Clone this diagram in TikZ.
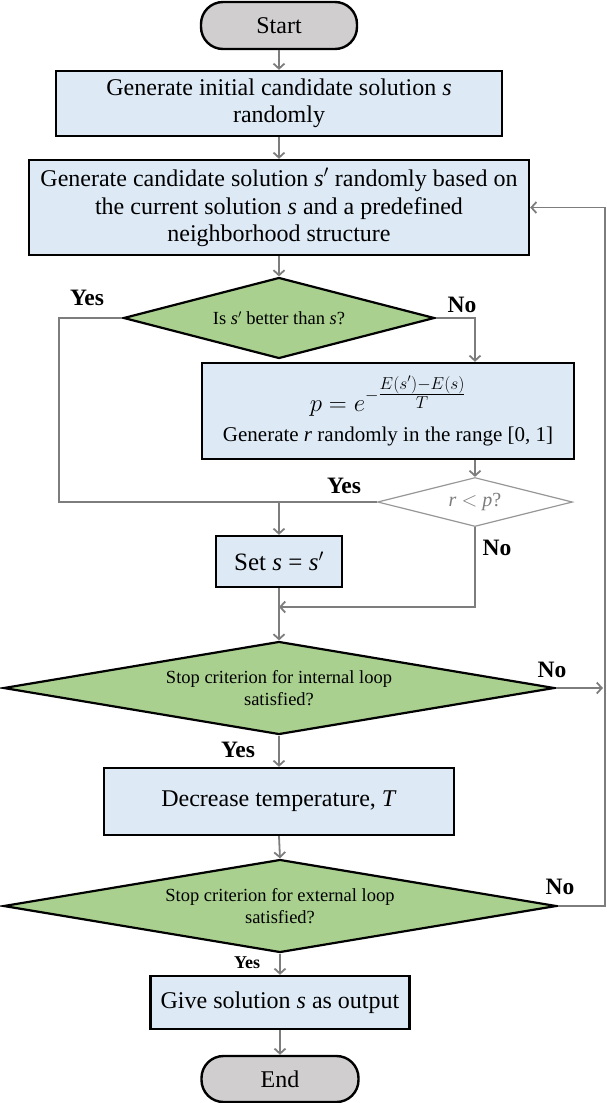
\documentclass[tikz,border=0pt]{standalone}
\usepackage{fontspec}
\setmainfont{Liberation Serif}
\usetikzlibrary{shapes.geometric,arrows.meta}
\definecolor{boxblue}{RGB}{221,234,246}
\definecolor{dgreen}{RGB}{169,208,142}
\definecolor{termgray}{RGB}{208,206,206}
\definecolor{arrgray}{RGB}{125,125,125}
\begin{document}
\begin{tikzpicture}[x=1pt,y=-1pt,
  box/.style={draw=black,line width=2.4pt,fill=boxblue,rectangle,inner sep=0pt,align=center,font=\fontsize{24}{27.5}\selectfont},
  term/.style={draw=black,line width=2.4pt,fill=termgray,rectangle,rounded corners=22pt,inner sep=0pt,font=\fontsize{24}{27.5}\selectfont},
  dec/.style={diamond,draw=black,line width=2.2pt,fill=dgreen,inner sep=0pt,align=center,font=\fontsize{18.5}{22}\selectfont},
  arr/.style={draw=arrgray,line width=1.8pt,-{Straight Barb[length=5pt,width=11pt]}},
  ln/.style={draw=arrgray,line width=1.8pt},
  lab/.style={font=\bfseries\fontsize{23.5}{27}\selectfont},
  slab/.style={font=\bfseries\fontsize{18}{22}\selectfont}]
\useasboundingbox (0,0) rectangle (606,1103);
\node[term,minimum width=156,minimum height=47] (start) at (279,25.5) {Start};
\node[box,minimum width=446,minimum height=65] (b1) at (279,103.5) {Generate initial candidate solution \textit{s}\\randomly};
\node[box,minimum width=500,minimum height=95] (b2) at (279,207.5) {Generate candidate solution \textit{s}$'$ randomly based on\\the current solution \textit{s} and a predefined\\neighborhood structure};
\node[dec,minimum width=311,minimum height=81,shape aspect=3.84] (d1) at (279,318) {Is \textit{s}$'$ better than \textit{s}?};
\node[box,minimum width=372,minimum height=96,font=\fontsize{21}{30}\selectfont] (b3) at (388,411) {{\fontsize{23}{27}\selectfont$p=e^{-\textstyle\frac{E(s')-E(s)}{T}}$}\\Generate \textit{r} randomly in the range [0, 1]};
\node[dec,fill=white,draw=arrgray!80,line width=1.2pt,minimum width=195,minimum height=49,shape aspect=3.98,text=arrgray,font=\fontsize{20}{24}\selectfont] (d2) at (475,502) {\textit{r} $<$ \textit{p}?};
\node[box,minimum width=126,minimum height=51,font=\fontsize{25}{28}\selectfont] (b4) at (279,561.5) {Set \textit{s} = \textit{s}$'$};
\node[dec,minimum width=551,minimum height=93,shape aspect=5.92] (d3) at (279,688) {Stop criterion for internal loop\\satisfied?};
\node[box,minimum width=350,minimum height=67] (b5) at (279,801.5) {Decrease temperature, \textit{T}};
\node[dec,minimum width=553,minimum height=93,shape aspect=5.95] (d4) at (280,906) {Stop criterion for external loop\\satisfied?};
\node[box,minimum width=259,minimum height=53] (b6) at (280,1002.5) {Give solution \textit{s} as output};
\node[term,minimum width=157,minimum height=46] (end) at (280,1079) {End};
% coordinates
\coordinate (Lt) at (59,318);
\coordinate (Lb) at (59,502);
\coordinate (J1) at (279,502);
\coordinate (J2) at (279,607);
\coordinate (R1) at (603,688);
\coordinate (R2) at (605,906);
\coordinate (R3) at (605,207.5);
% connectors
\draw[arr] (start.south) -- (b1.north);
\draw[arr] (b1.south) -- (b2.north);
\draw[arr] (b2.south) -- (d1.north);
\draw[ln] (d1.west) -- (Lt) -- (Lb) -- (d2.west);
\draw[arr] (d1.east) -| (b3.north -| d2.north);
\draw[arr] (b3.south -| d2.north) -- (d2.north);
\draw[arr] (J1) -- (b4.north);
\draw[arr] (d2.south) |- (J2);
\draw[arr] (b4.south) -- (d3.north);
\draw[arr] (d3.east) -- (R1);
\draw[arr] (d3.south) -- (b5.north);
\draw[arr] (b5.south) -- (d4.north);
\draw[arr] (d4.south) -- (b6.north);
\draw[arr] (b6.south) -- (end.north);
\draw[arr] (d4.east) -- (R2) -- (R3) -- (b2.east);
% labels
\node[lab] (y1) at (87,298) {Yes};
\node[lab] (n1) at (462,305) {No};
\node[lab] (y2) at (344,486) {Yes};
\node[lab] (n2) at (497,548) {No};
\node[lab] (n3) at (552,670) {No};
\node[lab] (y3) at (238,750) {Yes};
\node[lab] (n4) at (560,887) {No};
\node[slab] (y4) at (247,963) {Yes};
\end{tikzpicture}
\end{document}
